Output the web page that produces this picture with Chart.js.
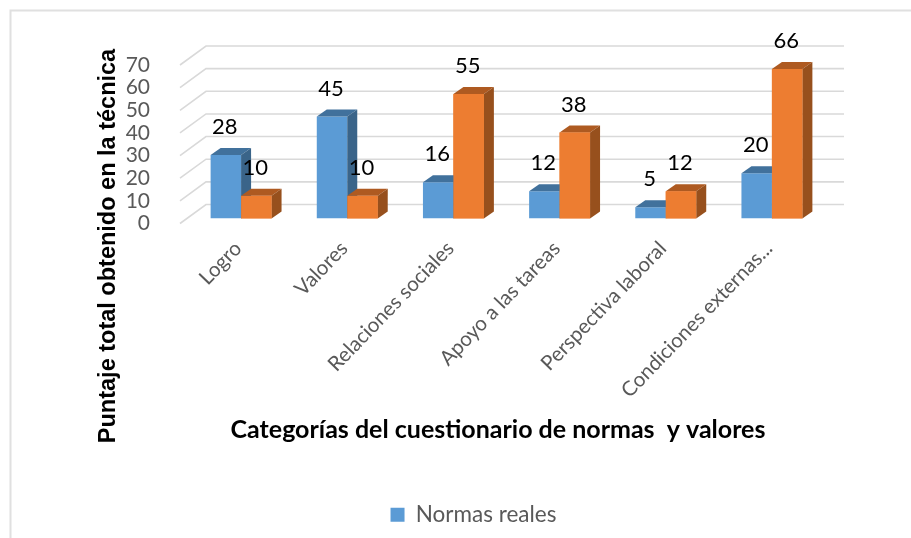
<!DOCTYPE html>
<html>
<head>
<meta charset="utf-8">
<script src="https://cdn.jsdelivr.net/npm/chart.js@4"></script>
<style>
  html, body { margin: 0; padding: 0; background: #fff; }
  #wrap { position: absolute; left: 0; top: 0; width: 911px; height: 538px; }
</style>
</head>
<body>
<div id="wrap"><canvas id="chart" width="911" height="538"></canvas></div>
<script>
const categories = ['Logro', 'Valores', 'Relaciones sociales', 'Apoyo a las tareas', 'Perspectiva laboral', 'Condiciones externas...'];
const normasReales = [28, 45, 16, 12, 5, 20];
const normasIdeales = [10, 10, 55, 38, 12, 66];
const yTicks = [0, 10, 20, 30, 40, 50, 60, 70];

const lato = 'Lato, sans-serif';
const liberation = '"Liberation Sans", sans-serif';

function shade(ctx, pts, color) {
  ctx.fillStyle = color;
  ctx.beginPath();
  pts.forEach((p, i) => i ? ctx.lineTo(p[0], p[1]) : ctx.moveTo(p[0], p[1]));
  ctx.closePath();
  ctx.fill();
}

// fake the 3d look: back wall gridlines, bar sides and value labels
const depthPlugin = {
  id: 'depth',
  beforeDatasetsDraw(chart) {
    const { ctx, scales } = chart;
    const left = 180, backX = 206, right = 844;
    ctx.save();
    ctx.strokeStyle = '#d9d9d9';
    ctx.lineWidth = 1.6;
    yTicks.forEach(t => {
      const y = scales.y.getPixelForValue(t) - 14;
      ctx.beginPath();
      ctx.moveTo(left, y + 19);
      ctx.lineTo(backX, y);
      ctx.lineTo(right, y);
      ctx.stroke();
    });
    ctx.restore();
  },
  afterDatasetsDraw(chart) {
    const { ctx } = chart;
    const dx = 10, dy = 7;
    const tops = ['#41719c', '#ae5a21'];
    const sides = ['#3a6489', '#97501d'];
    ctx.save();
    [0, 1].forEach(d => {
      chart.getDatasetMeta(d).data.forEach(bar => {
        const l = bar.x - bar.width / 2, r = bar.x + bar.width / 2;
        shade(ctx, [[l, bar.y], [l + dx, bar.y - dy], [r + dx, bar.y - dy], [r, bar.y]], tops[d]);
        shade(ctx, [[r, bar.y], [r + dx, bar.y - dy], [r + dx, bar.base - dy], [r, bar.base]], sides[d]);
        if (d === 1) {
          // orange front goes back over the blue side
          ctx.fillStyle = '#ed7d31';
          ctx.fillRect(l, bar.y, bar.width, bar.base - bar.y);
        }
      });
    });
    ctx.font = '22px ' + lato;
    ctx.fillStyle = '#000';
    ctx.textAlign = 'center';
    ctx.textBaseline = 'middle';
    chart.data.datasets.forEach((ds, d) => {
      chart.getDatasetMeta(d).data.forEach((bar, i) => {
        ctx.fillText(ds.data[i], bar.x - 1, bar.y - 28);
      });
    });
    ctx.restore();
  }
};

// page border and the two axis titles, which sit off centre from the plot
const pagePlugin = {
  id: 'page',
  beforeDraw(chart) {
    const { ctx } = chart;
    ctx.save();
    ctx.strokeStyle = '#e0e0e0';
    ctx.lineWidth = 2;
    ctx.beginPath();
    ctx.moveTo(10.5, 538);
    ctx.lineTo(10.5, 10.5);
    ctx.lineTo(911, 10.5);
    ctx.stroke();

    ctx.fillStyle = '#000';
    ctx.textAlign = 'center';
    ctx.textBaseline = 'middle';
    ctx.font = 'bold 25px ' + lato;
    ctx.fillText('Categorías del cuestionario de normas  y valores', 498, 430);
    ctx.translate(109, 246);
    ctx.rotate(-Math.PI / 2);
    ctx.font = 'bold 23.5px ' + liberation;
    ctx.fillText('Puntaje total obtenido en la técnica', 0, 0);
    ctx.restore();
  }
};

new Chart(document.getElementById('chart'), {
  type: 'bar',
  data: {
    labels: categories,
    datasets: [
      { label: 'Normas reales', data: normasReales, backgroundColor: '#5b9bd5' },
      { label: 'Normas ideales', data: normasIdeales, backgroundColor: '#ed7d31' }
    ]
  },
  options: {
    responsive: false,
    animation: false,
    layout: { padding: { left: 122, right: 86, top: 60, bottom: 2 } },
    datasets: { bar: { barPercentage: 1, categoryPercentage: 0.574 } },
    plugins: {
      tooltip: { enabled: false },
      legend: {
        position: 'bottom',
        labels: {
          filter: item => item.text === 'Normas reales',
          color: '#595959',
          font: { family: lato, size: 22.5 },
          boxWidth: 14,
          boxHeight: 14
        }
      }
    },
    scales: {
      x: {
        afterFit(scale) { scale.height = 275; },
        grid: { display: false },
        border: { display: false },
        ticks: { color: '#595959', font: { family: lato, size: 20.5 }, maxRotation: 46, minRotation: 46, padding: 10, labelOffset: -3 }
      },
      y: {
        min: 0,
        max: 70,
        afterFit(scale) { scale.width = 66; },
        grid: { display: false },
        border: { display: false },
        ticks: { stepSize: 10, autoSkip: false, color: '#595959', font: { family: lato, size: 21 }, labelOffset: 5, padding: 30 }
      }
    }
  },
  plugins: [pagePlugin, depthPlugin]
});
</script>
</body>
</html>
